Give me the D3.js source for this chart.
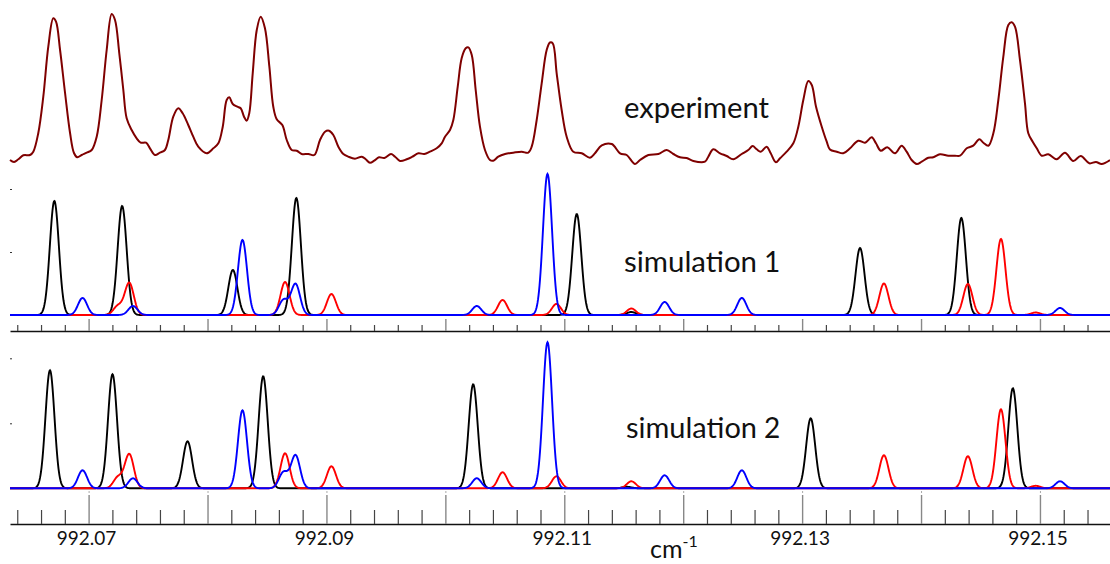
<!DOCTYPE html>
<html>
<head>
<meta charset="utf-8">
<script src="https://d3js.org/d3.v7.min.js"></script>
<style>
  html, body { margin: 0; padding: 0; background: #fff; }
  svg { display: block; }
  text { font-family: Lato, "Open Sans", sans-serif; fill: #111; }
</style>
</head>
<body>
<div id="chart"></div>
<script>
// Experimental trace, wavenumber (cm-1) and intensity (a.u.)
const expWavenumber = [
  992.06339, 992.06373, 992.06409, 992.06451, 992.06507, 992.06535, 992.06577, 992.06619, 992.06661, 992.06703,
  992.06726, 992.06760, 992.06802, 992.06844, 992.06877, 992.06905, 992.06942, 992.06984, 992.07026, 992.07068,
  992.07110, 992.07152, 992.07194, 992.07222, 992.07258, 992.07292, 992.07320, 992.07362, 992.07404, 992.07438,
  992.07483, 992.07516, 992.07558, 992.07600, 992.07642, 992.07670, 992.07712, 992.07754, 992.07791, 992.07838,
  992.07880, 992.07922, 992.07993, 992.08049, 992.08091, 992.08128, 992.08161, 992.08183, 992.08212, 992.08250,
  992.08279, 992.08307, 992.08329, 992.08351, 992.08380, 992.08414, 992.08447, 992.08483, 992.08520, 992.08553,
  992.08582, 992.08629, 992.08666, 992.08708, 992.08750, 992.08792, 992.08848, 992.08898, 992.08946, 992.08988,
  992.09022, 992.09058, 992.09100, 992.09142, 992.09184, 992.09240, 992.09297, 992.09330, 992.09366, 992.09402,
  992.09442, 992.09487, 992.09543, 992.09577, 992.09619, 992.09675, 992.09722, 992.09773, 992.09823, 992.09871,
  992.09927, 992.09969, 992.09997, 992.10039, 992.10067, 992.10104, 992.10137, 992.10171, 992.10193, 992.10222,
  992.10255, 992.10291, 992.10333, 992.10375, 992.10403, 992.10445, 992.10502, 992.10571, 992.10642, 992.10697,
  992.10726, 992.10768, 992.10810, 992.10852, 992.10880, 992.10903, 992.10936, 992.10978, 992.11020, 992.11076,
  992.11147, 992.11216, 992.11258, 992.11315, 992.11399, 992.11469, 992.11525, 992.11595, 992.11637, 992.11707,
  992.11791, 992.11861, 992.11917, 992.11973, 992.12029, 992.12085, 992.12183, 992.12211, 992.12253, 992.12310,
  992.12366, 992.12421, 992.12492, 992.12547, 992.12584, 992.12618, 992.12652, 992.12702, 992.12736, 992.12780,
  992.12814, 992.12870, 992.12926, 992.12968, 992.13010, 992.13052, 992.13081, 992.13117, 992.13165, 992.13207,
  992.13234, 992.13291, 992.13346, 992.13403, 992.13472, 992.13529, 992.13585, 992.13621, 992.13661, 992.13716,
  992.13781, 992.13837, 992.13879, 992.13921, 992.13964, 992.14006, 992.14061, 992.14103, 992.14159, 992.14229,
  992.14286, 992.14328, 992.14384, 992.14439, 992.14490, 992.14524, 992.14566, 992.14608, 992.14650, 992.14692,
  992.14734, 992.14762, 992.14790, 992.14832, 992.14874, 992.14902, 992.14939, 992.14973, 992.15015, 992.15070,
  992.15141, 992.15210, 992.15280, 992.15343, 992.15415, 992.15471, 992.15519, 992.15589
];
const expIntensity = [
  10, 8, 10.7, 14.7, 15, 18.3, 37, 73.3, 123.3, 151.7,
  148.3, 120, 77, 37, 17, 12.7, 15, 17.3, 20, 33.3,
  70, 120, 156, 150, 116.7, 80, 51.7, 40, 31.7, 27.3,
  27.3, 21.7, 15, 17.3, 20, 30, 53.3, 61.7, 56.7, 45,
  33.3, 23.3, 16.7, 21.7, 26.7, 43.3, 70, 72.7, 66, 63.3,
  61.7, 53.3, 49.3, 56.7, 96.7, 140, 153.3, 141.7, 103.3, 63.3,
  50.7, 45, 30, 20, 19.3, 16, 16, 15, 30, 38.3,
  39.3, 35, 23.3, 16, 13.3, 11.3, 13.3, 10.7, 7.3, 9.3,
  12.7, 12, 16, 13.3, 9, 10.7, 13.3, 16.7, 16, 18.3,
  21.7, 26.7, 33.3, 40, 50, 83.3, 111.7, 121.7, 122.7, 115,
  80, 43.3, 20, 10, 9.3, 13.3, 16, 17.3, 18.3, 17.3,
  23.3, 50, 86.7, 120, 127.5, 126.7, 96.7, 60, 33.3, 18.3,
  16.7, 12.3, 16.7, 24.7, 26, 16.7, 15, 6, 10, 15,
  16, 20, 16, 12.7, 12, 9, 8.3, 13.3, 20.7, 16.7,
  14, 10.7, 16, 20, 24, 20.7, 18.3, 23.3, 16.7, 7.7,
  11.7, 18.3, 26.7, 43.3, 70, 89, 85, 63.3, 43.3, 28.3,
  20.5, 18.3, 16.7, 21.7, 29.3, 27.3, 32.7, 26.7, 19.3, 22.7,
  16.7, 24.3, 18.3, 10, 6, 8.3, 12.3, 12.7, 15.7, 14.3,
  14.3, 14.3, 21.7, 24.3, 30.7, 27.3, 24.3, 36.7, 70, 113.3,
  145, 147.7, 143.3, 110, 66.7, 36.7, 28.3, 21.7, 14.3, 15.7,
  10.7, 17.3, 9, 14, 6.7, 8, 6, 10
];

// Simulated stick spectra (line positions in cm-1, amplitudes in a.u.)
const sim1BlackPos = [992.06712, 992.07282, 992.08213, 992.08747, 992.11105, 992.11564, 992.13487, 992.14339];
const sim1BlackAmp = [114, 109, 45, 117, 101, 3, 67, 97];
const sim2BlackPos = [992.06675, 992.07201, 992.07832, 992.08468, 992.10234, 992.11526, 992.13072, 992.14772];
const sim2BlackAmp = [118, 114, 47, 112, 104, 1.5, 70, 100];

const bluePos = [992.06949, 992.07373, 992.08294, 992.08639, 992.08740, 992.10264, 992.10859, 992.11844, 992.12493, 992.15169];
const sim1BlueAmp = [17, 9, 75, 15, 31, 9, 141, 13, 17, 7];
const sim2BlueAmp = [18, 10, 78, 16, 33, 10, 146, 13, 18, 7];

const redPos = [992.07247, 992.07342, 992.08652, 992.09042, 992.10481, 992.10934, 992.11564, 992.13688, 992.14394, 992.14672, 992.14964];
const sim1RedAmp = [9, 32, 33, 21, 15, 11, 6.5, 31.5, 31, 76, 2.5];
const sim2RedAmp = [11, 34, 35, 22, 16, 12, 7, 33, 32, 79, 2.5];

const tickLabels = [992.07, 992.09, 992.11, 992.13, 992.15];
const panelLabels = ['experiment', 'simulation', 'simulation'];
const panelNumbers = ['', '1', '2'];

// gaussian line width (sigma, cm-1) of the simulation
const lineSigma = 0.00038;

const width = 1110, height = 564;

const svg = d3.select('#chart')
  .append('svg')
  .attr('width', width)
  .attr('height', height);

// Scales
const x = d3.scaleLinear().domain([992.06339, 992.15589]).range([10, 1110]);
const yExp = d3.scaleLinear().domain([0, 160]).range([170, 10]);
const ySim1 = d3.scaleLinear().domain([0, 160]).range([315, 155]);
const ySim2 = d3.scaleLinear().domain([0, 160]).range([488.3, 328.3]);

// Experiment
const expLine = d3.line()
  .x(d => x(d[0]))
  .y(d => yExp(d[1]))
  .curve(d3.curveCatmullRom.alpha(0.5));

svg.append('path')
  .datum(d3.zip(expWavenumber, expIntensity))
  .attr('d', expLine)
  .attr('fill', 'none')
  .attr('stroke', '#7f0000')
  .attr('stroke-width', 2);

// Simulations: stick spectrum broadened with a gaussian line shape
const grid = d3.range(10, 1110.5, 0.5).map(px => x.invert(px));

function spectrum(pos, amp) {
  return grid.map(v => [v, d3.sum(pos, (p, i) => amp[i] * Math.exp(-0.5 * ((v - p) / lineSigma) ** 2))]);
}

const panels = [
  { y: ySim1, series: [[sim1BlackPos, sim1BlackAmp, '#000'], [redPos, sim1RedAmp, '#ff0000'], [bluePos, sim1BlueAmp, '#0000ff']] },
  { y: ySim2, series: [[sim2BlackPos, sim2BlackAmp, '#000'], [redPos, sim2RedAmp, '#ff0000'], [bluePos, sim2BlueAmp, '#0000ff']] }
];

panels.forEach(panel => {
  const line = d3.line()
    .x(d => x(d[0]))
    .y(d => panel.y(d[1]));

  panel.series.forEach(([pos, amp, color]) => {
    svg.append('path')
      .datum(spectrum(pos, amp))
      .attr('d', line)
      .attr('fill', 'none')
      .attr('stroke', color)
      .attr('stroke-width', 1.9);
  });
});

// tiny left ticks of the simulation intensity axes
[[ySim1, [63, 126]], [ySim2, [65, 130]]].forEach(([y, vals]) => {
  const ax = svg.append('g')
    .attr('transform', 'translate(10,0)')
    .call(d3.axisRight(y).tickValues(vals).tickSize(2).tickFormat(''));
  ax.select('.domain').remove();
  ax.selectAll('line').attr('stroke', '#333');
});

// Wavenumber tick axes
const majorTicks = d3.range(7, 16).map(i => 992 + i / 100);
const minorTicks = d3.range(32, 78).filter(i => i % 5 !== 0).map(i => 992 + i / 500);

function tickAxis(yPos, majorLen, minorLen) {
  const g = svg.append('g').attr('transform', `translate(0,${yPos})`);

  const minor = g.append('g')
    .call(d3.axisTop(x).tickValues(minorTicks).tickSize(minorLen).tickSizeOuter(0).tickFormat(''));
  minor.selectAll('.tick line').attr('stroke', '#444').attr('stroke-width', 1.2);
  minor.select('.domain').attr('stroke', '#111').attr('stroke-width', 1.6);

  const major = g.append('g')
    .call(d3.axisTop(x).tickValues(majorTicks).tickSize(majorLen).tickSizeOuter(0).tickFormat(''));
  major.selectAll('.tick line').attr('stroke', '#888').attr('stroke-width', 1.4);
  major.select('.domain').remove();
}

tickAxis(331, 12, 6);
tickAxis(524, 29, 14);

// small marks under the lower simulation
const marks = svg.append('g')
  .attr('transform', 'translate(0,491)')
  .call(d3.axisBottom(x).tickValues(majorTicks).tickSize(2).tickFormat(''));
marks.select('.domain').remove();
marks.selectAll('line').attr('stroke', '#aaa');

// Tick labels
svg.selectAll('.xlabel')
  .data(tickLabels)
  .enter()
  .append('text')
  .attr('class', 'xlabel')
  .attr('x', d => x(d) - 2)
  .attr('y', 545)
  .attr('text-anchor', 'middle')
  .style('font-size', '19px')
  .text(d => d3.format('.2f')(d));

// Unit
const unit = svg.append('text')
  .attr('x', 650)
  .attr('y', 558)
  .style('font-size', '25px');
unit.append('tspan').text('cm');
unit.append('tspan')
  .attr('dy', -11)
  .style('font-size', '16px')
  .text('-1');

// Panel labels
const labelPos = [[624, 118, 145], [624, 272, 133], [626, 438, 131]];
const labels = svg.selectAll('.plabel')
  .data(panelLabels)
  .enter()
  .append('text')
  .attr('class', 'plabel')
  .attr('x', (d, i) => labelPos[i][0])
  .attr('y', (d, i) => labelPos[i][1])
  .attr('textLength', (d, i) => labelPos[i][2])
  .attr('lengthAdjust', 'spacingAndGlyphs')
  .style('font-size', '28px')
  .text(d => d);

// panel numbers sit a little apart from the word
svg.selectAll('.pnum')
  .data(panelNumbers.filter(d => d))
  .enter()
  .append('text')
  .attr('class', 'pnum')
  .attr('x', 764)
  .attr('y', (d, i) => labelPos[i + 1][1])
  .style('font-size', '28px')
  .text(d => d);
</script>
</body>
</html>
